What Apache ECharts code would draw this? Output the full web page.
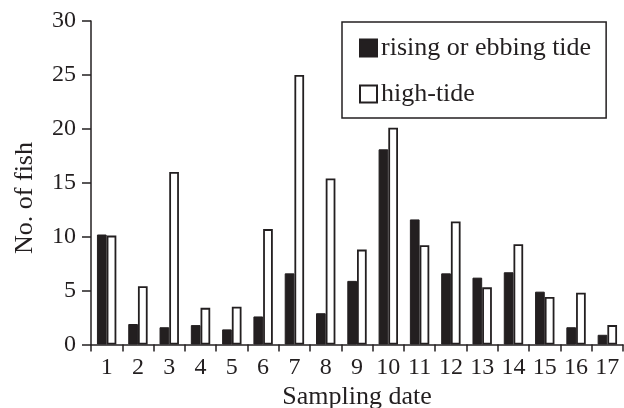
<!DOCTYPE html>
<html><head><meta charset="utf-8">
<script src="https://cdn.jsdelivr.net/npm/echarts@6/dist/echarts.min.js"></script>
<style>html,body{margin:0;padding:0;background:#fff}#c{width:624px;height:408px}</style>
</head><body><div id="c"></div>
<script>
const categories = ['1','2','3','4','5','6','7','8','9','10','11','12','13','14','15','16','17'];
const risingEbbing = [10.2, 1.9, 1.6, 1.8, 1.4, 2.6, 6.6, 2.9, 5.9, 18.1, 11.6, 6.6, 6.2, 6.7, 4.9, 1.6, 0.9];
const highTide = [10.1, 5.4, 16.0, 3.4, 3.5, 10.7, 25.0, 15.4, 8.8, 20.1, 9.2, 11.4, 5.3, 9.3, 4.4, 4.8, 1.8];
const yTicks = [0, 5, 10, 15, 20, 25, 30];

const ink = '#231f20';
const font = 'Liberation Serif';
const chart = echarts.init(document.getElementById('c'), null, {renderer: 'canvas'});
chart.setOption({
  animation: false,
  backgroundColor: '#fff',
  textStyle: {fontFamily: font, color: ink},
  grid: {left: 91, right: 1, top: 21, bottom: 63.5, containLabel: false, outerBoundsMode: 'none'},
  legend: {
    left: 342, top: 22,
    orient: 'vertical',
    padding: [13, 15, 11, 17],
    itemWidth: 17, itemHeight: 17, itemGap: 20,
    borderColor: ink, borderWidth: 1.5, borderRadius: 0,
    textStyle: {fontFamily: font, fontSize: 26, color: ink, padding: [0, 0, 0, -1]},
    icon: 'rect',
    data: ['rising or ebbing tide', 'high-tide']
  },
  xAxis: {
    type: 'category', data: categories,
    boundaryGap: true,
    name: 'Sampling date', nameLocation: 'middle', nameGap: 38,
    nameTextStyle: {fontFamily: font, fontSize: 26, color: ink},
    axisLine: {lineStyle: {color: ink, width: 1.5}},
    axisTick: {show: true, length: 7, inside: false, alignWithLabel: false, lineStyle: {color: ink, width: 1.5}},
    axisLabel: {fontFamily: font, fontSize: 24, color: ink, margin: 11, interval: 0}
  },
  yAxis: {
    type: 'value', min: 0, max: 30, interval: 5,
    axisLine: {show: true, lineStyle: {color: ink, width: 1.5}},
    axisTick: {show: true, length: 9, lineStyle: {color: ink, width: 1.5}},
    splitLine: {show: false},
    axisLabel: {fontFamily: font, fontSize: 24, color: ink, margin: 15,
      formatter: v => yTicks.includes(v) ? String(v) : ''}
  },
  graphic: [{
    type: 'text', x: 25, y: 198, rotation: Math.PI / 2,
    style: {text: 'No. of fish', font: '26px "Liberation Serif"', fill: ink, textAlign: 'center', textVerticalAlign: 'middle'}
  }],
  series: [
    {name: 'rising or ebbing tide', type: 'bar', data: risingEbbing,
     barGap: '0%', barCategoryGap: '38%',
     itemStyle: {color: ink, borderColor: ink, borderWidth: 1}},
    {name: 'high-tide', type: 'bar', data: highTide,
     barGap: '0%', barCategoryGap: '38%',
     itemStyle: {color: '#fff', borderColor: ink, borderWidth: 1.8}}
  ]
});
</script></body></html>
